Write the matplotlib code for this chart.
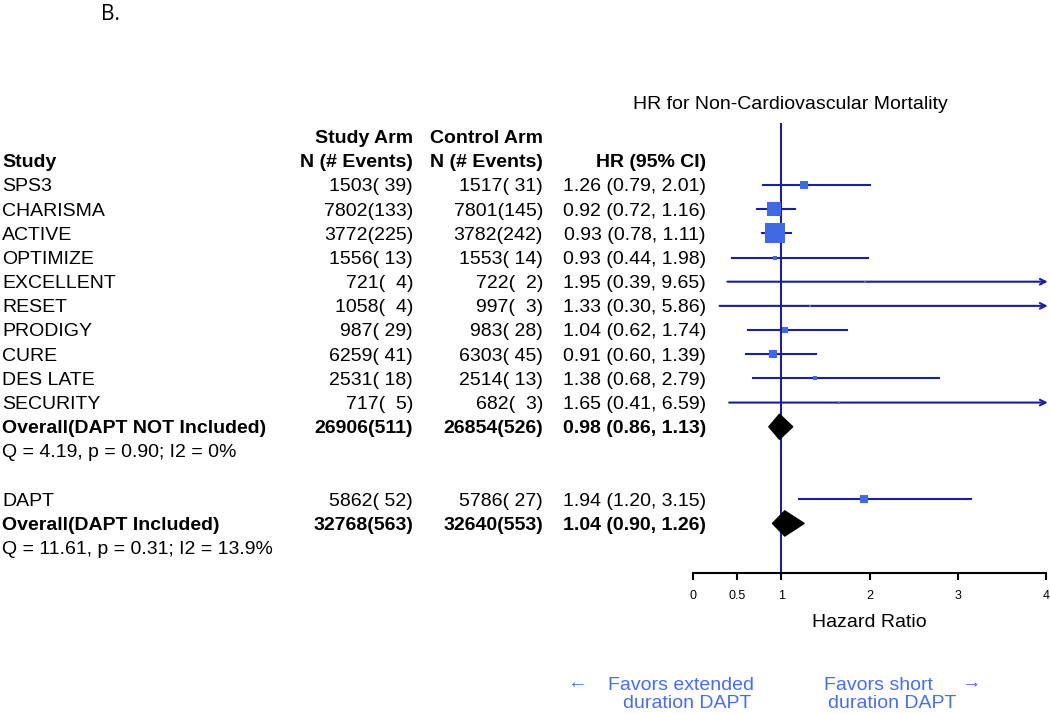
import numpy as np
import matplotlib
matplotlib.use("Agg")
import matplotlib.pyplot as plt
from matplotlib import transforms
from matplotlib.patches import Polygon

plt.rcParams['font.family'] = ['Liberation Sans', 'DejaVu Sans']

# data
studies = ["SPS3", "CHARISMA", "ACTIVE", "OPTIMIZE", "EXCELLENT", "RESET",
           "PRODIGY", "CURE", "DES LATE", "SECURITY"]
n_study = [1503, 7802, 3772, 1556, 721, 1058, 987, 6259, 2531, 717]
ev_study = [39, 133, 225, 13, 4, 4, 29, 41, 18, 5]
n_ctrl = [1517, 7801, 3782, 1553, 722, 997, 983, 6303, 2514, 682]
ev_ctrl = [31, 145, 242, 14, 2, 3, 28, 45, 13, 3]
hr = [1.26, 0.92, 0.93, 0.93, 1.95, 1.33, 1.04, 0.91, 1.38, 1.65]
lo = [0.79, 0.72, 0.78, 0.44, 0.39, 0.30, 0.62, 0.60, 0.68, 0.41]
hi = [2.01, 1.16, 1.11, 1.98, 9.65, 5.86, 1.74, 1.39, 2.79, 6.59]

dapt = {"name": "DAPT", "n_s": 5862, "ev_s": 52, "n_c": 5786, "ev_c": 27,
        "hr": 1.94, "lo": 1.20, "hi": 3.15}

overall_names = ["Overall(DAPT NOT Included)", "Overall(DAPT Included)"]
overall_n_s = [26906, 32768]
overall_ev_s = [511, 563]
overall_n_c = [26854, 32640]
overall_ev_c = [526, 553]
overall_hr = [0.98, 1.04]
overall_lo = [0.86, 0.90]
overall_hi = [1.13, 1.26]
het_text = ["Q = 4.19, p = 0.90; I2 = 0%", "Q = 11.61, p = 0.31; I2 = 13.9%"]

xticks = [0, 0.5, 1, 2, 3, 4]

line_col = "#1e1e96"
box_col = "#4169e1"

fig = plt.figure(figsize=(10.5, 7.14), dpi=100)
ax = fig.add_axes([693 / 1050, (714 - 573) / 714, (1046 - 693) / 1050, (573 - 123) / 714])
ax.set_xlim(0, 4)
ax.set_ylim(16.05, -2.565)
for s in ["left", "right", "top"]:
    ax.spines[s].set_visible(False)
ax.spines["bottom"].set_linewidth(1.5)
ax.set_yticks([])
ax.set_xticks(xticks)
ax.set_xticklabels([str(t) for t in xticks], fontsize=9)
ax.tick_params(axis="x", length=5, width=1.5, pad=7)
ax.set_xlabel("Hazard Ratio", fontsize=14, labelpad=9)

ax.axvline(1, color=line_col, lw=1.5, zorder=1)

trans = transforms.blended_transform_factory(fig.transFigure, ax.transData)
fs = 14
dy = 0.08  # text sits a touch lower than the row centre


def fx(px):
    return px / 1050


# rows of studies + DAPT
all_hr = hr + [dapt["hr"]]
all_lo = lo + [dapt["lo"]]
all_hi = hi + [dapt["hi"]]
rows = list(range(len(studies))) + [13]
se = (np.log(all_hi) - np.log(all_lo)) / (2 * 1.96)
side_px = 20 * (1 / se) / (1 / se).max()

for r, h, l, u, sp in zip(rows, all_hr, all_lo, all_hi, side_px):
    if u > 4:
        ax.annotate("", xy=(4.02, r), xytext=(l, r),
                    arrowprops=dict(arrowstyle="->", color=line_col, lw=1.5,
                                    shrinkA=0, shrinkB=0), annotation_clip=False)
    else:
        ax.plot([l, u], [r, r], color=line_col, lw=1.5, zorder=2)
    ax.plot(h, r, marker="s", color=box_col, markersize=max(sp, 2) * 0.72, mew=0, zorder=3)

# diamonds
for r, h, l, u in zip([10, 14], overall_hr, overall_lo, overall_hi):
    ax.add_patch(Polygon([(l, r), (h, r - 0.52), (u, r), (h, r + 0.52)],
                         closed=True, color="black", zorder=4))

# header
ax.text(fx(2), -1 + dy, "Study", transform=trans, ha="left", va="center", fontsize=fs,
        fontweight="bold")
ax.text(fx(413), -2 + dy, "Study Arm", transform=trans, ha="right", va="center",
        fontsize=fs, fontweight="bold")
ax.text(fx(413), -1 + dy, "N (# Events)", transform=trans, ha="right", va="center",
        fontsize=fs, fontweight="bold")
ax.text(fx(543), -2 + dy, "Control Arm", transform=trans, ha="right", va="center",
        fontsize=fs, fontweight="bold")
ax.text(fx(543), -1 + dy, "N (# Events)", transform=trans, ha="right", va="center",
        fontsize=fs, fontweight="bold")
ax.text(fx(706), -1 + dy, "HR (95% CI)", transform=trans, ha="right", va="center", fontsize=fs,
        fontweight="bold")
ax.text(fx(790), -3.43 + dy, "HR for Non-Cardiovascular Mortality", transform=trans,
        ha="center", va="center", fontsize=14, clip_on=False)

names = studies + [dapt["name"]]
ns = n_study + [dapt["n_s"]]
es = ev_study + [dapt["ev_s"]]
nc = n_ctrl + [dapt["n_c"]]
ec = ev_ctrl + [dapt["ev_c"]]
for r, nm, a, b, c, d, h, l, u in zip(rows, names, ns, es, nc, ec, all_hr, all_lo, all_hi):
    ty = r + dy
    ax.text(fx(2), ty, nm, transform=trans, ha="left", va="center", fontsize=fs)
    ax.text(fx(413), ty, "%d(%3d)" % (a, b), transform=trans, ha="right", va="center", fontsize=fs)
    ax.text(fx(543), ty, "%d(%3d)" % (c, d), transform=trans, ha="right", va="center", fontsize=fs)
    ax.text(fx(706), ty, "%.2f (%.2f, %.2f)" % (h, l, u), transform=trans, ha="right",
            va="center", fontsize=fs)

for r, nm, a, b, c, d, h, l, u, q in zip([10, 14], overall_names, overall_n_s, overall_ev_s,
                                          overall_n_c, overall_ev_c, overall_hr, overall_lo,
                                          overall_hi, het_text):
    ty = r + dy
    ax.text(fx(2), ty, nm, transform=trans, ha="left", va="center", fontsize=fs, fontweight="bold")
    ax.text(fx(413), ty, "%d(%3d)" % (a, b), transform=trans, ha="right", va="center",
            fontsize=fs, fontweight="bold")
    ax.text(fx(543), ty, "%d(%3d)" % (c, d), transform=trans, ha="right", va="center",
            fontsize=fs, fontweight="bold")
    ax.text(fx(706), ty, "%.2f (%.2f, %.2f)" % (h, l, u), transform=trans, ha="right",
            va="center", fontsize=fs, fontweight="bold")
    ax.text(fx(2), ty + 1, q, transform=trans, ha="left", va="center", fontsize=fs)

fig.text(fx(110), 1 - 14 / 714, "B.", ha="center", va="center", fontsize=15, family="Open Sans")

fav_col = "#4a6ee8"
fig.text(fx(681), 1 - 685 / 714, "Favors extended", ha="center", va="center",
         fontsize=14, color=fav_col)
fig.text(fx(687), 1 - 703 / 714, "duration DAPT", ha="center", va="center",
         fontsize=14, color=fav_col)
fig.text(fx(577), 1 - 684 / 714, "\u2190", ha="center", va="center", fontsize=14, color=fav_col)
fig.text(fx(878), 1 - 685 / 714, "Favors short", ha="center", va="center",
         fontsize=14, color=fav_col)
fig.text(fx(892), 1 - 703 / 714, "duration DAPT", ha="center", va="center",
         fontsize=14, color=fav_col)
fig.text(fx(971), 1 - 684 / 714, "\u2192", ha="center", va="center", fontsize=14, color=fav_col)

fig.savefig("out.png", dpi=100)
